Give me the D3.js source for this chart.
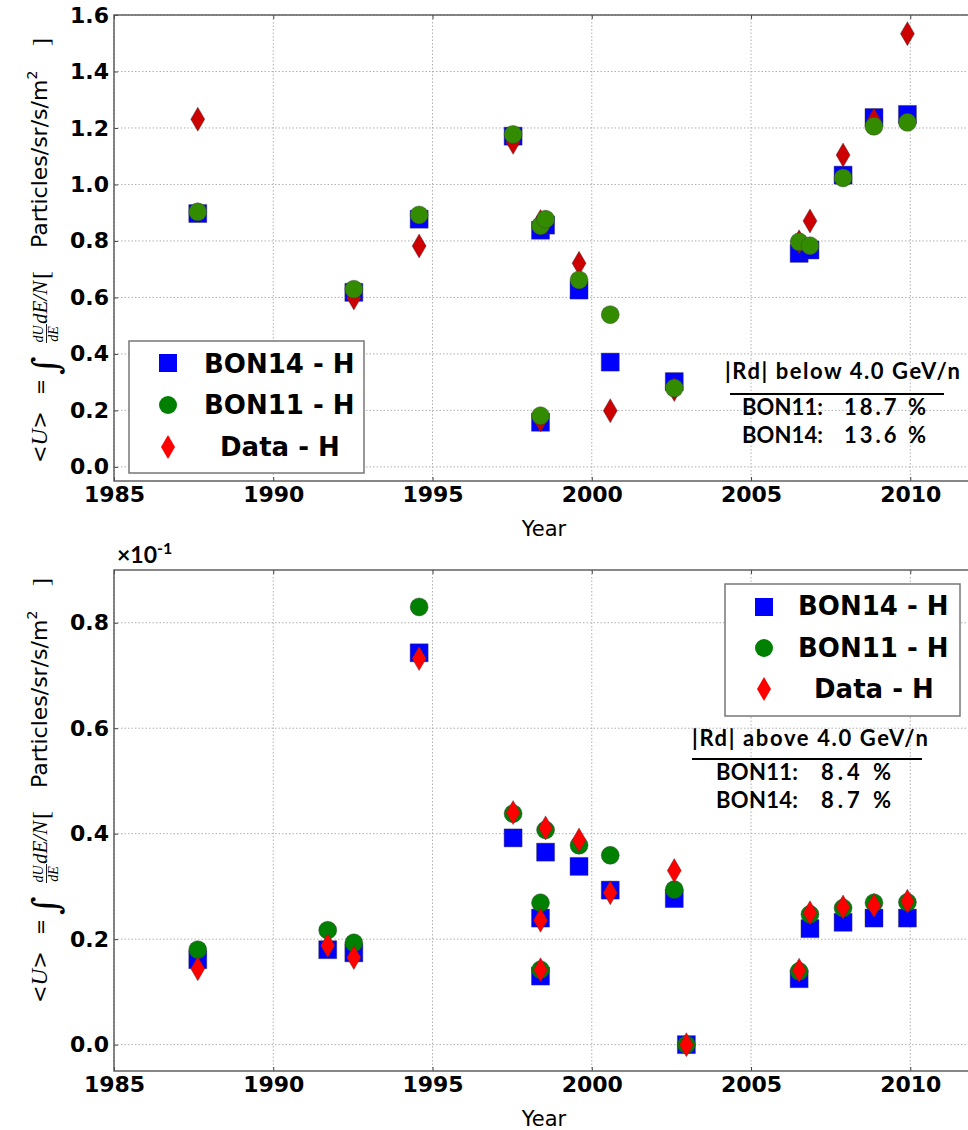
<!DOCTYPE html>
<html>
<head>
<meta charset="utf-8">
<script src="https://cdn.jsdelivr.net/npm/d3@7"></script>
<style>
  body { margin: 0; background: #fff; }
  svg { display: block; }
  .tick text { font-family: "DejaVu Sans", sans-serif; font-weight: bold; font-size: 22px; fill: #000; }
  .tick line { stroke: #444; stroke-width: 1; }
  .domain { display: none; }
</style>
</head>
<body>
<svg id="chart" width="968" height="1130"></svg>
<script>
// ---- Data ----
const xTicks = [1985, 1990, 1995, 2000, 2005, 2010];
const topYTicks = [0.0, 0.2, 0.4, 0.6, 0.8, 1.0, 1.2, 1.4, 1.6];
const bottomYTicks = [0.0, 0.2, 0.4, 0.6, 0.8];
const seriesNames = ["BON14 - H", "BON11 - H", "Data - H"];

// Below 4.0 GeV/n
const topYears  = [1987.63, 1992.53, 1994.58, 1997.53, 1998.39, 1998.39, 1998.55, 1999.60, 2000.58, 2002.59, 2006.51, 2006.85, 2007.89, 2008.86, 2009.91];
const topBON14  = [0.897, 0.618, 0.877, 1.171, 0.838, 0.158, 0.856, 0.626, 0.371, 0.302, 0.756, 0.768, 1.033, 1.237, 1.248];
const topBON11  = [0.903, 0.629, 0.892, 1.177, 0.854, 0.181, 0.877, 0.662, 0.539, 0.279, 0.797, 0.783, 1.023, 1.206, 1.220];
const topData   = [1.231, 0.598, 0.782, 1.149, 0.869, 0.166, 0.867, 0.721, 0.199, 0.274, 0.797, 0.871, 1.104, 1.227, 1.534];

// Above 4.0 GeV/n (units of 1e-1)
const bottomYears = [1987.63, 1991.71, 1992.53, 1994.58, 1997.53, 1998.39, 1998.39, 1998.55, 1999.60, 2000.58, 2002.59, 2002.97, 2006.51, 2006.85, 2007.89, 2008.86, 2009.91];
const bottomBON14 = [0.161, 0.180, 0.174, 0.743, 0.392, 0.240, 0.130, 0.365, 0.338, 0.293, 0.277, 0.0, 0.125, 0.220, 0.232, 0.240, 0.240];
const bottomBON11 = [0.180, 0.217, 0.193, 0.830, 0.438, 0.269, 0.142, 0.407, 0.378, 0.359, 0.294, 0.0, 0.139, 0.247, 0.259, 0.269, 0.270];
const bottomData  = [0.144, 0.188, 0.165, 0.732, 0.440, 0.236, 0.142, 0.411, 0.388, 0.288, 0.330, 0.0, 0.141, 0.250, 0.261, 0.264, 0.272];

const topStats = { title: "|Rd| below 4.0 GeV/n", rows: [["BON11:", "18.7 %"], ["BON14:", "13.6 %"]] };
const bottomStats = { title: "|Rd| above 4.0 GeV/n", rows: [["BON11:", "8.4 %"], ["BON14:", "8.7 %"]] };

// ---- Drawing ----
const svg = d3.select("#chart");
const x = d3.scaleLinear().domain([1985, 2012]).range([114, 974]);

const SQ = 18, CR = 9, DW = 7, DH = 12;
const squarePath = `M${-SQ/2},${-SQ/2}h${SQ}v${SQ}h${-SQ}Z`;
const circlePath = d3.symbol(d3.symbolCircle, Math.PI * CR * CR)();
const diamondPath = `M0,${-DH}L${DW},0L0,${DH}L${-DW},0Z`;
const shapes = { sq: squarePath, ci: circlePath, di: diamondPath };

function drawMarkers(g, years, vals, y, shape, fill) {
  g.append("g").selectAll("path")
    .data(years.map((yr, i) => [yr, vals[i]]))
    .join("path")
    .attr("d", shapes[shape])
    .attr("transform", d => `translate(${x(d[0])},${y(d[1])})`)
    .attr("fill", fill)
    .attr("stroke", "#3a3a3a")
    .attr("stroke-opacity", 0.6)
    .attr("stroke-width", 0.7);
}

// rotated math label: <U> = ∫ dU/dE dE/N [Particles/sr/s/m²]
function yLabel(yStart) {
  const g = svg.append("g").attr("transform", `translate(0,${yStart}) rotate(-90)`);
  const serif = "'Liberation Serif', serif";
  const sans = "'DejaVu Sans', sans-serif";
  const t1 = g.append("text").attr("x", 0).attr("y", 47).attr("font-size", 21);
  t1.append("tspan").attr("font-family", sans).text("<");
  t1.append("tspan").attr("font-family", serif).attr("font-style", "italic").attr("font-size", 23).text("U");
  t1.append("tspan").attr("font-family", sans).text(">");
  g.append("text").attr("x", 68).attr("y", 47).attr("font-family", sans).attr("font-size", 19).text("=");
  g.append("text").attr("x", 88).attr("y", 58).attr("font-family", "'DejaVu Serif', serif").attr("font-size", 36).text("∫");
  g.append("text").attr("x", 129).attr("y", 43).attr("text-anchor", "middle").attr("font-family", serif)
    .attr("font-style", "italic").attr("font-size", 14).text("dU");
  g.append("line").attr("x1", 120).attr("x2", 139).attr("y1", 46.5).attr("y2", 46.5).attr("stroke", "#000").attr("stroke-width", 0.9);
  g.append("text").attr("x", 129).attr("y", 58).attr("text-anchor", "middle").attr("font-family", serif)
    .attr("font-style", "italic").attr("font-size", 14).text("dE");
  g.append("text").attr("x", 139).attr("y", 47).attr("font-family", serif).attr("font-style", "italic").attr("font-size", 21).text("dE/N");
  g.append("text").attr("x", 184).attr("y", 49).attr("font-family", serif).attr("font-size", 24).text("[");
  const t2 = g.append("text").attr("x", 215).attr("y", 47).attr("font-family", sans).attr("font-size", 22);
  t2.append("tspan").text("Particles/sr/s/m");
  t2.append("tspan").attr("font-size", 14).attr("dy", -10).text("2");
  g.append("text").attr("x", 417).attr("y", 49).attr("font-family", serif).attr("font-size", 24).text("]");
}

function panel(cfg) {
  const y = d3.scaleLinear().domain(cfg.domain).range([cfg.bottom, cfg.top]);
  const g = svg.append("g");

  // grid
  g.append("g").selectAll("line").data(xTicks).join("line")
    .attr("x1", d => x(d)).attr("x2", d => x(d)).attr("y1", cfg.top).attr("y2", cfg.bottom)
    .attr("stroke", "#b0b0b0").attr("stroke-width", 1).attr("stroke-dasharray", "1.5,2");
  g.append("g").selectAll("line").data(cfg.yTicks).join("line")
    .attr("x1", 114).attr("x2", 974).attr("y1", d => y(d)).attr("y2", d => y(d))
    .attr("stroke", "#b0b0b0").attr("stroke-width", 1).attr("stroke-dasharray", "1.5,2");

  // axes (inward ticks)
  g.append("g").attr("transform", `translate(0,${cfg.bottom})`)
    .call(d3.axisBottom(x).tickValues(xTicks).tickFormat(d3.format("d")).tickSize(-4).tickPadding(5));
  g.append("g").attr("transform", `translate(0,${cfg.top})`)
    .call(d3.axisTop(x).tickValues(xTicks).tickFormat("").tickSize(-4));
  g.append("g").attr("transform", `translate(114,0)`)
    .call(d3.axisLeft(y).tickValues(cfg.yTicks).tickFormat(d3.format(".1f")).tickSize(-4).tickPadding(5));

  // markers
  cfg.layers.forEach(l => drawMarkers(g, cfg.years, l.vals, y, l.shape, l.fill));

  // frame
  g.append("rect").attr("x", 114).attr("y", cfg.top).attr("width", 860).attr("height", cfg.bottom - cfg.top)
    .attr("fill", "none").attr("stroke", "#555").attr("stroke-width", 1.4);

  // x label
  g.append("text").attr("x", 544).attr("y", cfg.bottom + 55).attr("text-anchor", "middle")
    .attr("font-family", "'DejaVu Sans', sans-serif").attr("font-size", 21).text("Year");

  // legend
  const L = cfg.legend;
  g.append("rect").attr("x", L.x).attr("y", L.y).attr("width", L.w).attr("height", L.h)
    .attr("fill", "#fff").attr("stroke", "#777").attr("stroke-width", 1.5);
  const items = [
    { shape: "sq", fill: "#0000ff", name: seriesNames[0], tx: L.tx },
    { shape: "ci", fill: "#008000", name: seriesNames[1], tx: L.tx },
    { shape: "di", fill: "#ff0000", name: seriesNames[2], tx: L.tx + 16 }
  ];
  items.forEach((it, i) => {
    g.append("path").attr("d", shapes[it.shape])
      .attr("transform", `translate(${L.mx},${L.my[i]})`).attr("fill", it.fill);
    g.append("text").attr("x", it.tx).attr("y", L.by[i])
      .attr("font-family", "'DejaVu Sans', sans-serif").attr("font-weight", "bold").attr("font-size", 26)
      .text(it.name);
  });

  // statistics text block
  const S = cfg.stats;
  const ann = g.append("g").attr("font-family", "Lato, 'Open Sans', sans-serif").attr("font-weight", 700).attr("font-size", 22);
  ann.append("text").attr("x", S.tx).attr("y", S.ty).attr("textLength", S.tw).attr("lengthAdjust", "spacing")
    .text(S.data.title);
  ann.append("line").attr("x1", S.lx1).attr("x2", S.lx2).attr("y1", S.ly).attr("y2", S.ly)
    .attr("stroke", "#000").attr("stroke-width", 2);
  S.data.rows.forEach((r, i) => {
    ann.append("text").attr("x", S.rx).attr("y", S.ry[i]).attr("textLength", S.rw).attr("lengthAdjust", "spacing").text(r[0]);
    ann.append("text").attr("x", S.vx).attr("y", S.ry[i]).attr("textLength", S.vw).attr("lengthAdjust", "spacing").text(r[1]);
  });

  yLabel(cfg.labelStart);
}

panel({
  top: 15, bottom: 481, domain: [-0.05, 1.6], yTicks: topYTicks, years: topYears,
  layers: [
    { vals: topBON14, shape: "sq", fill: "#0000ff" },
    { vals: topData, shape: "di", fill: "#cc0000" },
    { vals: topBON11, shape: "ci", fill: "#338c00" }
  ],
  legend: { x: 129, y: 341, w: 235, h: 132, mx: 168, my: [363, 405, 447], tx: 204, by: [373, 414, 456] },
  stats: { data: topStats, tx: 725, ty: 379, tw: 235, lx1: 730, lx2: 944, ly: 394,
           rx: 742, rw: 81, vx: 844, vw: 82, ry: [415, 443] },
  labelStart: 463
});

panel({
  top: 570, bottom: 1071, domain: [-0.05, 0.9], yTicks: bottomYTicks, years: bottomYears,
  layers: [
    { vals: bottomBON14, shape: "sq", fill: "#0000ff" },
    { vals: bottomBON11, shape: "ci", fill: "#008000" },
    { vals: bottomData, shape: "di", fill: "#ff0000" }
  ],
  legend: { x: 725, y: 584, w: 235, h: 132, mx: 764, my: [607, 648, 689], tx: 798, by: [615, 657, 698] },
  stats: { data: bottomStats, tx: 692, ty: 746, tw: 236, lx1: 692, lx2: 922, ly: 759,
           rx: 716, rw: 82, vx: 821, vw: 70, ry: [780, 808] },
  labelStart: 1003
});

// offset multiplier for the lower panel
const mult = svg.append("text").attr("x", 117).attr("y", 563)
  .attr("font-family", "Lato, 'Open Sans', sans-serif").attr("font-weight", 700).attr("font-size", 23);
mult.append("tspan").text("×10");
mult.append("tspan").attr("font-size", 16).attr("dy", -9).text("-1");
</script>
</body>
</html>
